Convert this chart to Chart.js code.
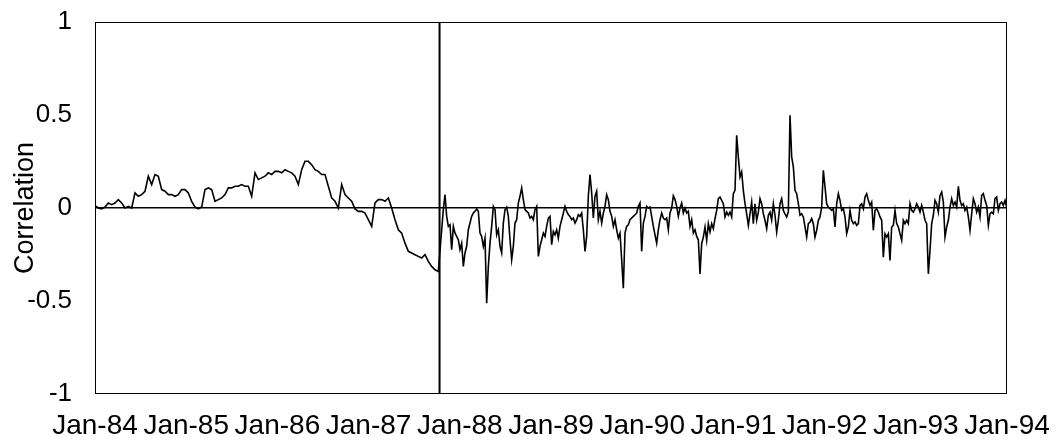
<!DOCTYPE html>
<html>
<head>
<meta charset="utf-8">
<script src="https://cdn.jsdelivr.net/npm/chart.js@4"></script>
<style>
  html, body { margin: 0; padding: 0; background: #fff; }
  #wrap { width: 1060px; height: 442px; }
</style>
</head>
<body>
<div id="wrap"><canvas id="corr-chart" width="1060" height="442"></canvas></div>
<script>
// x axis tick labels, one per January
var tickLabels = ['Jan-84', 'Jan-85', 'Jan-86', 'Jan-87', 'Jan-88', 'Jan-89',
                  'Jan-90', 'Jan-91', 'Jan-92', 'Jan-93', 'Jan-94'];
var yTickLabels = ['-1', '-0.5', '0', '0.5', '1'];

// rolling correlation before the crash (sampled every ~2 weeks)
var preStart = 1984.0;
var preStep = 0.03655;
var preCorr = [
  0.013, 0, -0.005, 0.005, 0.027, 0.018, 0.027, 0.045, 0.027, 0,
  0.009, 0, 0.081, 0.063, 0.072, 0.090, 0.171, 0.126, 0.180, 0.171,
  0.099, 0.090, 0.072, 0.072, 0.063, 0.072, 0.099, 0.099, 0.081, 0.036,
  0.005, -0.005, 0.005, 0.099, 0.108, 0.099, 0.036, 0.045, 0.054, 0.072,
  0.108, 0.108, 0.117, 0.117, 0.126, 0.117, 0.117, 0.063, 0.189, 0.153,
  0.162, 0.171, 0.189, 0.180, 0.197, 0.197, 0.189, 0.206, 0.197, 0.189,
  0.171, 0.126, 0.206, 0.251, 0.251, 0.233, 0.206, 0.197, 0.180, 0.180,
  0.117, 0.054, 0.036, 0, 0.126, 0.072, 0.054, 0.036, -0.005, -0.018,
  -0.018, -0.027, -0.063, -0.099, 0.027, 0.045, 0.045, 0.036, 0.054, 0,
  -0.063, -0.117, -0.135, -0.189, -0.233, -0.242, -0.251, -0.260, -0.269, -0.251,
  -0.287, -0.314, -0.332, -0.341
];

// rolling correlation after the crash (roughly weekly)
var postStart = 1987.8012;
var postStep = 0.018275;
var postCorr = [
  -0.117, -0.009, 0.072, -0.045, -0.099, -0.090, -0.224, -0.099, -0.135, -0.153,
  -0.171, -0.224, -0.189, -0.314, -0.242, -0.206, -0.117, -0.081, -0.045, -0.027,
  -0.018, -0.005, -0.018, -0.135, -0.153, -0.206, -0.162, -0.512, -0.314, -0.189,
  -0.099, 0.009, -0.009, -0.144, -0.117, -0.206, -0.242, -0.081, -0.009, 0.005,
  -0.045, -0.171, -0.278, -0.206, -0.081, -0.063, 0.027, 0.063, 0.108, 0.045,
  -0.009, -0.018, -0.027, -0.054, -0.045, -0.063, -0.009, 0.009, -0.260, -0.206,
  -0.171, -0.135, -0.153, -0.099, -0.054, -0.045, -0.197, -0.126, -0.144, -0.117,
  -0.162, -0.099, -0.063, -0.027, 0.009, -0.018, -0.036, -0.045, -0.063, -0.054,
  -0.081, -0.063, -0.036, -0.045, -0.027, -0.117, -0.233, -0.153, 0.063, 0.180,
  0.081, -0.054, 0.063, 0.090, -0.063, -0.018, -0.081, -0.027, 0.009, 0.072,
  0.045, -0.018, -0.045, -0.099, -0.063, -0.117, -0.162, -0.135, -0.278, -0.431,
  -0.135, -0.099, -0.090, -0.063, -0.054, -0.045, -0.036, -0.027, 0.009, 0.027,
  -0.233, -0.081, -0.045, 0.009, 0.000, 0.005, -0.045, -0.099, -0.144, -0.189,
  -0.117, -0.063, -0.027, -0.054, -0.063, -0.054, -0.117, -0.027, 0.000, 0.066,
  0.045, 0.009, -0.045, 0.000, 0.027, -0.027, 0.000, -0.027, -0.018, -0.099,
  -0.063, -0.135, -0.117, -0.153, -0.171,
  -0.354, -0.192, -0.156, -0.102, -0.174, -0.084, -0.129, -0.084, -0.111, -0.057,
  -0.013, 0.050, 0.059, 0.041, 0.023, -0.048, -0.022, -0.039, -0.022, -0.048,
  0.077, 0.095, 0.391, 0.275, 0.167, 0.194, 0.095, 0.023, -0.031, -0.093,
  -0.031, 0.032, -0.084, 0.023, -0.066, -0.022, 0.050, 0.023, -0.031, -0.066,
  -0.111, -0.039, -0.022, -0.066, 0.023, -0.039, -0.129, -0.066, 0.023, 0.050,
  -0.013, -0.031, -0.048, -0.022, 0.499, 0.275, 0.221, 0.095, 0.077, 0.023,
  -0.039, -0.031, -0.048, -0.102, -0.156, -0.084, -0.075, -0.057, -0.084, -0.156,
  -0.120, -0.066, -0.048, 0.005, 0.203, 0.113, 0.023, 0.005, -0.004, -0.013,
  -0.004, -0.102, 0.023, 0.077, 0.041, -0.013, -0.004, -0.048, -0.138, -0.102,
  -0.013, -0.066, -0.084, -0.075, -0.093, -0.084, 0.014, 0.023, -0.004, 0.059,
  0.077, 0.041, 0.014, 0.032, -0.120, -0.013, -0.004, -0.022, -0.048, -0.066,
  -0.264, -0.138, -0.156, -0.138, -0.282, -0.102, -0.093, -0.013, -0.084, -0.102,
  -0.138, -0.174, -0.066, -0.084, -0.066, -0.084, 0.023, -0.013, -0.022, -0.004,
  0.023, 0.005, -0.022, 0.014, -0.022, -0.066, -0.084, -0.354, -0.228, -0.084,
  -0.039, 0.041, 0.023, -0.022, 0.068, 0.086, 0.032, -0.156, -0.102, -0.066,
  0.005, 0.050, 0.014, 0.032, 0.005, 0.117, 0.041, 0.014, 0.023, -0.013,
  0.005, -0.048, -0.120, -0.031, 0.050, 0.023, -0.022, 0.005, -0.048, 0.068,
  0.077, 0.041, 0.014, -0.093, -0.031, -0.022, -0.031, 0.050, 0.059, -0.013,
  0.023, 0.032, 0.014, 0.041, 0.005
];

// October 1987 marker line
var crashDate = 1987.778;
var crashSpan = [1, -1];

var series = preCorr.map(function (v, i) { return { x: preStart + i * preStep, y: v }; })
  .concat(postCorr.map(function (v, i) { return { x: postStart + i * postStep, y: v }; }));
var crashLine = crashSpan.map(function (v) { return { x: crashDate, y: v }; });

var font = "'Liberation Sans', Arial, sans-serif";

// box round the plot area
var frame = {
  id: 'frame',
  afterDatasetsDraw: function (chart) {
    var a = chart.chartArea, ctx = chart.ctx;
    ctx.save();
    ctx.strokeStyle = '#000';
    ctx.lineWidth = 1;
    ctx.strokeRect(a.left + 0.5, a.top + 0.5, a.right - a.left - 1, a.bottom - a.top - 1);
    ctx.restore();
  }
};

new Chart(document.getElementById('corr-chart'), {
  type: 'line',
  data: {
    datasets: [
      {
        data: series,
        borderColor: '#000',
        borderWidth: 1.6,
        pointRadius: 0,
        tension: 0
      },
      {
        data: crashLine,
        borderColor: '#000',
        borderWidth: 2,
        pointRadius: 0
      }
    ]
  },
  options: {
    responsive: false,
    animation: false,
    devicePixelRatio: 1,
    layout: { padding: { top: 22, right: 53, bottom: 0, left: 0 } },
    plugins: { legend: { display: false }, tooltip: { enabled: false } },
    scales: {
      x: {
        type: 'linear',
        min: 1984,
        max: 1994,
        afterFit: function (scale) {
          scale.height = 48;
          scale.paddingLeft = 0;
          scale.paddingRight = 0;
        },
        grid: { display: false, drawTicks: false },
        border: { display: false },
        ticks: {
          stepSize: 1,
          autoSkip: false,
          maxRotation: 0,
          padding: 15,
          color: '#000',
          font: { family: font, size: 28 },
          callback: function (v) { return tickLabels[Math.round(v - 1984)]; }
        }
      },
      y: {
        min: -1,
        max: 1,
        afterFit: function (scale) {
          scale.width = 95;
          scale.paddingTop = 0;
          scale.paddingBottom = 0;
        },
        grid: {
          drawTicks: false,
          lineWidth: 1.5,
          color: function (ctx) { return ctx.tick && ctx.tick.value === 0 ? '#000' : 'rgba(0,0,0,0)'; }
        },
        border: { display: false },
        title: {
          display: true,
          text: 'Correlation',
          color: '#000',
          padding: { top: 9, bottom: 0 },
          font: { family: font, size: 27 }
        },
        ticks: {
          stepSize: 0.5,
          padding: 23,
          color: '#000',
          font: { family: font, size: 26 },
          callback: function (v) { return yTickLabels[Math.round(v * 2) + 2]; }
        }
      }
    }
  },
  plugins: [frame]
});
</script>
</body>
</html>
